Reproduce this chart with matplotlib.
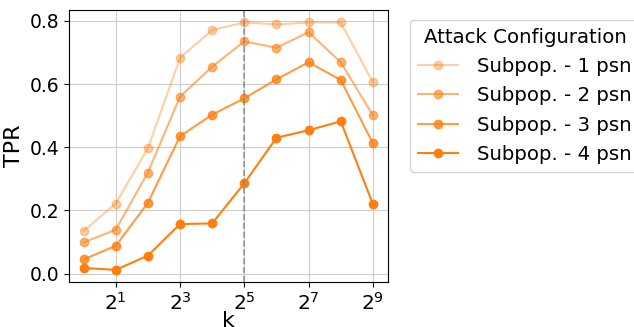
import matplotlib.pyplot as plt
import numpy as np

# k = 2^0 ... 2^9
k_values = [1, 2, 4, 8, 16, 32, 64, 128, 256, 512]

tpr_1psn = [0.135, 0.222, 0.397, 0.683, 0.771, 0.795, 0.789, 0.795, 0.795, 0.605]
tpr_2psn = [0.099, 0.139, 0.320, 0.560, 0.655, 0.735, 0.715, 0.764, 0.669, 0.501]
tpr_3psn = [0.045, 0.088, 0.224, 0.435, 0.503, 0.555, 0.615, 0.669, 0.613, 0.412]
tpr_4psn = [0.018, 0.012, 0.057, 0.157, 0.159, 0.286, 0.430, 0.454, 0.482, 0.220]

series = [
    ("Subpop. - 1 psn", tpr_1psn, 0.38),
    ("Subpop. - 2 psn", tpr_2psn, 0.58),
    ("Subpop. - 3 psn", tpr_3psn, 0.78),
    ("Subpop. - 4 psn", tpr_4psn, 1.0),
]

fig = plt.figure(figsize=(6.34, 3.27), dpi=100)
ax = fig.add_axes([0.109, 0.138, 0.503, 0.831])

for label, values, alpha in series:
    ax.plot(k_values, values, "o-", color="#ff7f0e", alpha=alpha,
            linewidth=1.5, markersize=6, label=label)

ax.axvline(32, color="gray", linestyle="--", linewidth=1.2, alpha=0.8)

ax.set_xscale("log", base=2)
ax.set_xticks([2, 8, 32, 128, 512])
ax.minorticks_off()
ax.set_xlim(2 ** -0.45, 2 ** 9.47)
ax.set_ylim(-0.026, 0.834)
ax.set_yticks([0.0, 0.2, 0.4, 0.6, 0.8])
ax.grid(True, color="#cccccc", linewidth=0.8)
ax.set_axisbelow(True)

ax.tick_params(axis="y", labelsize=13.5)
ax.tick_params(axis="x", labelsize=14.5)
ax.set_xlabel("k", fontsize=16, labelpad=-2)
ax.set_ylabel("TPR", fontsize=16, labelpad=4)

fig.legend(loc="upper left", bbox_to_anchor=(0.647, 0.939),
           title="Attack Configuration", fontsize=14.2, title_fontsize=14.2,
           handlelength=2.0, handletextpad=1.0, labelspacing=0.52,
           borderaxespad=0.0)

fig.savefig("out.png", dpi=100)
